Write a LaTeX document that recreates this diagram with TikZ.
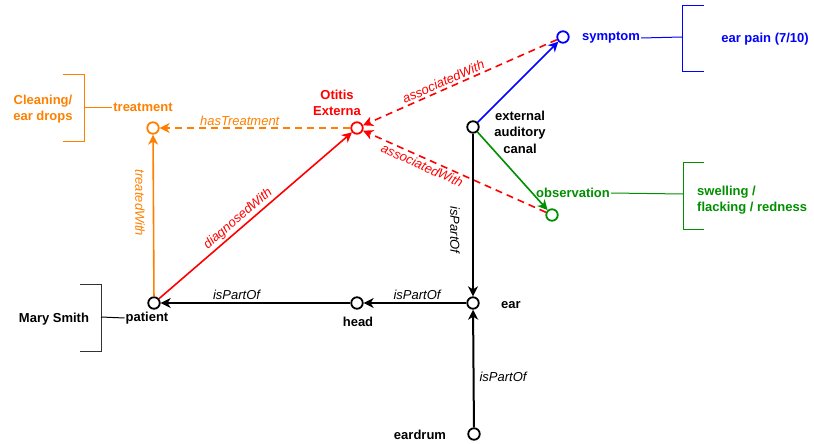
\documentclass[tikz,border=0pt]{standalone}
\usepackage{fontspec}
\setmainfont{Liberation Sans}
\usetikzlibrary{arrows.meta}
\definecolor{orng}{HTML}{FF8000}
\definecolor{grn}{HTML}{008F00}
\definecolor{rd}{HTML}{FF0000}
\definecolor{bl}{HTML}{0000FF}
\definecolor{gry}{HTML}{333333}
\begin{document}
\begin{tikzpicture}[x=1pt,y=-1pt,
  vtx/.style={circle,draw,fill=white,line width=1.8pt,minimum size=11.5pt,inner sep=0pt},
  lbl/.style={font=\fontsize{13}{16.5}\selectfont\bfseries,align=center,inner sep=1pt},
  elbl/.style={font=\fontsize{13}{15}\selectfont\itshape,inner sep=2pt},
  arr/.style={-{Stealth[length=10pt,width=10pt,inset=3pt]}},
  blk/.style={arr,line width=2pt,black},
  col/.style={arr,line width=1.6pt},
  dsh/.style={dash pattern=on 7pt off 5pt},
  brk/.style={line width=1pt}]
\useasboundingbox (0,0) rectangle (814,444);

% vertices
\node[vtx,draw=orng] (tr) at (153,128) {};
\node[vtx,draw=rd] (oe) at (357,128) {};
\node[vtx,draw=bl] (sy) at (563,37) {};
\node[vtx] (ea) at (473,127) {};
\node[vtx,draw=grn] (ob) at (552,215) {};
\node[vtx] (pa) at (154,303) {};
\node[vtx] (hd) at (357,303) {};
\node[vtx] (er) at (473,303) {};
\node[vtx] (dr) at (474,434) {};

% vertex labels
\node[lbl,text=orng] (trl) at (143,107) {treatment};
\node[lbl,text=rd] (oel) at (337,103) {Otitis\\Externa};
\node[lbl,text=bl] (syl) at (611,38) {symptom};
\node[lbl] (eal) at (520,132) {external\\auditory\\canal};
\node[lbl,text=grn] (obl) at (573,193) {observation};
\node[lbl] (pal) at (147,318) {patient};
\node[lbl] (hdl) at (358,322) {head};
\node[lbl] (erl) at (511,305) {ear};
\node[lbl] (drl) at (420,435) {eardrum};

% bracket values
\node[lbl,text=orng] (trv) at (43,109) {Cleaning/\\ear drops};
\node[lbl,text=bl] (syv) at (765,39) {ear pain (7/10)};
\node[lbl,text=grn,align=left,anchor=west] (obv) at (696,200) {swelling /\\flacking / redness};
\node[lbl] (pav) at (54,319) {Mary Smith};

% brackets
\draw[brk,orng] (63,75) -- (84,75) -- (84,141) -- (63,141);
\coordinate (trb) at (84,107);
\draw[brk,orng] (trb) -- (trl.west);
\draw[brk,bl] (704,6) -- (682,6) -- (682,72) -- (704,72);
\coordinate (syb) at (682,37);
\draw[brk,bl] (syl.east) -- (syb);
\draw[brk,grn] (704,162) -- (683,162) -- (683,229) -- (704,229);
\coordinate (obb) at (683,194);
\draw[brk,grn] (obl.east) -- (obb);
\draw[brk,gry] (80,284) -- (101,284) -- (101,351) -- (80,351);
\coordinate (pab) at (101,317);
\draw[brk,black] (pab) -- (pal.west);

% edges
\draw[col,orng,dsh] (oe) -- node[elbl,above,pos=0.58,text=orng] (e1) {hasTreatment} (tr);
\draw[col,orng] (pa) -- (tr);
\node[elbl,text=orng,rotate=-90] (e2) at (140,203) {treatedWith};
\draw[col,rd] (pa) -- node[elbl,sloped,above,pos=0.44,text=rd] (e3) {diagnosedWith} (oe);
\draw[col,rd,dsh] (sy) -- node[elbl,sloped,above,pos=0.57,text=rd] (e4) {associatedWith} (oe);
\draw[col,rd,dsh] (ob) -- node[elbl,sloped,below,pos=0.66,text=rd] (e5) {associatedWith} (oe);
\draw[col,bl] (ea) -- (sy);
\draw[col,grn] (ea) -- (ob);
\draw[blk] (ea) -- (er);
\node[elbl,rotate=-90] (e6) at (455,230) {isPartOf};
\draw[blk] (er) -- node[elbl,above,pos=0.48] (e7) {isPartOf} (hd);
\draw[blk] (hd) -- node[elbl,above,pos=0.6] (e8) {isPartOf} (pa);
\draw[blk] (dr) -- (er);
\node[elbl] (e9) at (503,377) {isPartOf};
\end{tikzpicture}
\end{document}
